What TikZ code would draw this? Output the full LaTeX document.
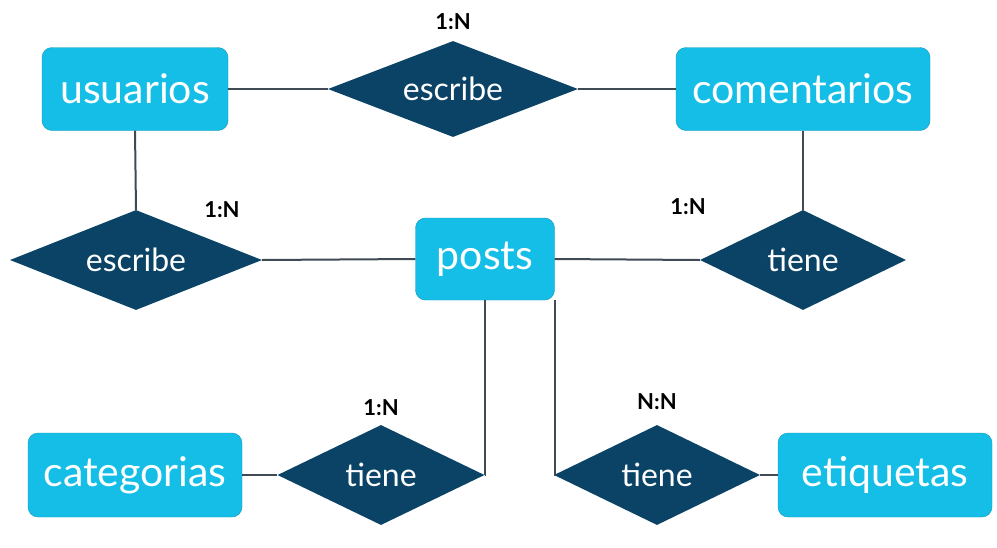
\documentclass[tikz,border=0pt]{standalone}
\usepackage{fontspec}
\setmainfont{Lato}
\usetikzlibrary{shapes.geometric}
\definecolor{entidad}{RGB}{20,190,230}
\definecolor{relacion}{RGB}{10,67,102}
\definecolor{linea}{RGB}{64,74,84}
\begin{document}
\begin{tikzpicture}[x=1pt, y=-1pt,
		entidad/.style={draw=entidad!80!black, fill=entidad, rounded corners=10pt, text=white, font=\fontsize{41}{41}\selectfont, inner sep=0pt},
		relacion/.style={diamond, aspect=2.5, fill=relacion, text=white, font=\fontsize{32}{32}\selectfont, inner sep=0pt},
		card/.style={font=\bfseries\fontsize{22}{22}\selectfont},
		con/.style={draw=linea, line width=2pt}]
		\useasboundingbox (0,0) rectangle (997,547);
		
		% Entidades
		\node[entidad, minimum width=186pt, minimum height=83pt] (usuarios) at (135,89) {usuarios};
		\node[entidad, minimum width=254pt, minimum height=83pt] (comentarios) at (803,89) {comentarios};
		\node[entidad, minimum width=139pt, minimum height=82pt] (posts) at (485,259) {posts};
		\node[entidad, minimum width=214pt, minimum height=84pt] (categorias) at (135,475) {categorias};
		\node[entidad, minimum width=214pt, minimum height=84pt] (etiquetas) at (885,475) {etiquetas};
		
		% Relaciones
		\node[relacion, minimum width=250pt, minimum height=96pt] (escribeC) at (453,89) {escribe};
		\node[relacion, minimum width=252pt, minimum height=100pt] (escribeP) at (136,260) {escribe};
		\node[relacion, minimum width=206pt, minimum height=100pt] (tieneC) at (803,260) {tiene};
		\node[relacion, minimum width=207pt, minimum height=100pt] (tieneCat) at (381,475) {tiene};
		\node[relacion, minimum width=206pt, minimum height=100pt] (tieneE) at (657,475) {tiene};
		
		% Cardinalidades
		\node[card] (c1) at (453,22) {1:N};
		\node[card] (c2) at (222,210) {1:N};
		\node[card] (c3) at (688,207) {1:N};
		\node[card] (c4) at (381,408) {1:N};
		\node[card] (c5) at (657,402) {N:N};
		
		% Lineas
		\draw[con] (usuarios.east) -- (escribeC.west);
		\draw[con] (escribeC.east) -- (comentarios.west);
		\draw[con] (usuarios.south) -- (escribeP.north);
		\draw[con] (escribeP.east) -- (posts.west);
		\draw[con] (comentarios.south) -- (tieneC.north);
		\draw[con] (posts.east) -- (tieneC.west);
		\draw[con] (posts.south) |- (tieneCat.east);
		\draw[con] (tieneCat.west) -- (categorias.east);
		\draw[con] (posts.south east) |- (tieneE.west);
		\draw[con] (tieneE.east) -- (etiquetas.west);
	\end{tikzpicture}
\end{document}
